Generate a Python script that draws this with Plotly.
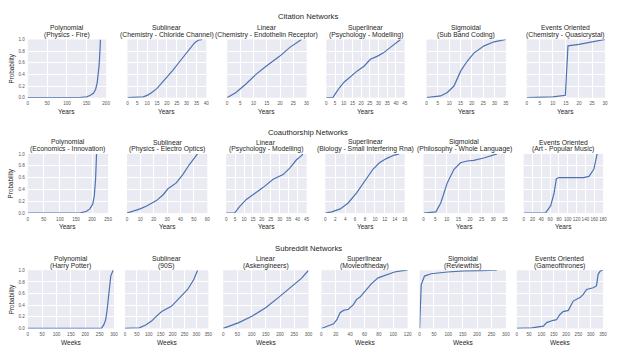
import plotly.graph_objects as go

# ---------------- data ----------------
row_titles = ["Citation Networks", "Coauthorship Networks", "Subreddit Networks"]
x_labels = ["Years", "Years", "Weeks"]
kinds = ["Polynomial", "Sublinear", "Linear", "Superlinear", "Sigmoidal", "Events Oriented"]
topics = [
    ["(Physics - Fire)", "(Chemistry - Chloride Channel)", "(Chemistry - Endothelin Receptor)",
     "(Psychology - Modelling)", "(Sub Band Coding)", "(Chemistry - Quasicrystal)"],
    ["(Economics - Innovation)", "(Physics - Electro Optics)", "(Psychology - Modelling)",
     "(Biology - Small Interfering Rna)", "(Philosophy - Whole Language)", "(Art - Popular Music)"],
    ["(Harry Potter)", "(90S)", "(Askengineers)", "(Movieoftheday)", "(Reviewthis)", "(Gameofthrones)"],
]

# Citation networks
cit_poly_x = [0, 100, 130, 150, 160, 168, 173, 177, 180, 182, 184, 185.5]
cit_poly_y = [0, 0, 0.002, 0.015, 0.04, 0.08, 0.14, 0.25, 0.4, 0.55, 0.78, 1.0]
cit_sub_x = [0, 5, 8, 10, 12, 15, 18, 20, 23, 26, 30, 32, 34, 36, 38]
cit_sub_y = [0, 0.003, 0.015, 0.04, 0.08, 0.16, 0.27, 0.35, 0.47, 0.6, 0.76, 0.86, 0.94, 0.99, 1.0]
cit_lin_x = [0, 3.2, 7, 10.9, 14.7, 19.8, 23.6, 27.5, 28.1]
cit_lin_y = [0, 0.086, 0.23, 0.4, 0.54, 0.71, 0.86, 0.98, 1.0]
cit_sup_x = [0, 3.75, 5.6, 7.5, 10.3, 14.1, 17.8, 21.6, 25.3, 29.1, 32.8, 36.6, 40.3, 42.6]
cit_sup_y = [0, 0, 0.086, 0.17, 0.27, 0.37, 0.46, 0.54, 0.66, 0.71, 0.77, 0.86, 0.94, 1.0]
cit_sig_x = [0, 6.2, 9.2, 12.1, 15.1, 18, 21, 25.4, 29.8, 34.3, 35]
cit_sig_y = [0, 0.03, 0.09, 0.2, 0.46, 0.63, 0.77, 0.89, 0.96, 0.995, 1.0]
cit_evt_x = [0, 5, 10, 14.8, 15.8, 20, 25, 30]
cit_evt_y = [0, 0.005, 0.012, 0.04, 0.89, 0.915, 0.955, 1.0]

# Coauthorship networks
coa_poly_x = [0, 100, 162, 183, 193, 202, 207, 211, 214]
coa_poly_y = [0, 0, 0, 0.03, 0.07, 0.15, 0.29, 0.57, 1.0]
coa_sub_x = [0, 9.8, 14.7, 22, 27, 30.6, 36.8, 41.7, 46.6, 51.5, 52.7]
coa_sub_y = [0, 0.07, 0.12, 0.21, 0.31, 0.41, 0.51, 0.65, 0.82, 0.98, 1.0]
coa_lin_x = [0, 4.7, 7.5, 11.3, 15, 20.6, 26.3, 31.9, 35.6, 39.4, 42.2, 43]
coa_lin_y = [0, 0, 0.11, 0.23, 0.31, 0.43, 0.57, 0.65, 0.76, 0.9, 0.97, 1.0]
coa_sup_x = [0, 1.3, 3, 4.6, 6.3, 7.9, 9.6, 10.9, 12.3, 13.9, 14.9]
coa_sup_y = [0, 0.02, 0.07, 0.17, 0.34, 0.54, 0.74, 0.85, 0.92, 0.98, 1.0]
coa_sig_x = [0, 5.3, 7.4, 10.2, 13.1, 15.9, 18.8, 21.6, 25.9, 30.2, 31.6]
coa_sig_y = [0, 0.02, 0.17, 0.51, 0.74, 0.85, 0.88, 0.89, 0.93, 0.99, 1.0]
coa_evt_x = [0, 49, 61, 69, 74, 80, 136, 148, 159, 165, 166.5]
coa_evt_y = [0, 0, 0.12, 0.34, 0.58, 0.6, 0.6, 0.62, 0.74, 0.95, 1.0]

# Subreddit networks
sub_poly_x = [0, 100, 200, 256, 264, 271, 276, 282, 288.5, 296.5]
sub_poly_y = [0, 0, 0, 0, 0.06, 0.15, 0.33, 0.64, 0.9, 1.0]
sub_sub_x = [0, 50, 60, 87, 113, 127, 154, 195, 236, 263, 289, 305]
sub_sub_y = [0, 0, 0.01, 0.06, 0.13, 0.19, 0.29, 0.38, 0.55, 0.67, 0.84, 1.0]
sub_lin_x = [0, 25, 55, 101, 148, 194, 241, 275, 300]
sub_lin_y = [0, 0.04, 0.1, 0.21, 0.35, 0.53, 0.73, 0.86, 1.0]
sub_sup_x = [0, 10, 17, 21.6, 26, 30.7, 37.6, 44.5, 49, 53.7, 60.5, 69.7, 78.9, 85.8, 92.7, 101.8, 111, 120]
sub_sup_y = [0, 0.04, 0.08, 0.15, 0.27, 0.31, 0.33, 0.41, 0.5, 0.54, 0.64, 0.77, 0.87, 0.9, 0.93, 0.97, 0.99, 1.0]
sub_sig_x = [0, 2.3, 5.7, 17, 40, 97, 155, 212, 269]
sub_sig_y = [0, 0.41, 0.75, 0.9, 0.94, 0.97, 0.99, 0.995, 1.0]
sub_evt_x = [0, 60.6, 108, 121, 148, 161, 175, 188, 209, 229, 256, 269, 283, 310, 323, 330, 339, 350]
sub_evt_y = [0, 0.01, 0.04, 0.1, 0.14, 0.15, 0.24, 0.29, 0.31, 0.47, 0.53, 0.58, 0.67, 0.7, 0.73, 0.93, 0.99, 1.0]

series = [
    [(cit_poly_x, cit_poly_y), (cit_sub_x, cit_sub_y), (cit_lin_x, cit_lin_y),
     (cit_sup_x, cit_sup_y), (cit_sig_x, cit_sig_y), (cit_evt_x, cit_evt_y)],
    [(coa_poly_x, coa_poly_y), (coa_sub_x, coa_sub_y), (coa_lin_x, coa_lin_y),
     (coa_sup_x, coa_sup_y), (coa_sig_x, coa_sig_y), (coa_evt_x, coa_evt_y)],
    [(sub_poly_x, sub_poly_y), (sub_sub_x, sub_sub_y), (sub_lin_x, sub_lin_y),
     (sub_sup_x, sub_sup_y), (sub_sig_x, sub_sig_y), (sub_evt_x, sub_evt_y)],
]

x_max = [[200, 40, 30, 45, 35, 30], [250, 60, 45, 16, 35, 180], [300, 350, 300, 120, 300, 350]]
x_step = [[50, 5, 5, 5, 5, 5], [50, 10, 5, 2, 5, 20], [50, 50, 50, 20, 50, 50]]
y_tick_vals = [0.0, 0.2, 0.4, 0.6, 0.8, 1.0]

# ---------------- layout (pixel geometry) ----------------
W, H = 617, 363
row_y_px = [(38, 97), (154, 214), (272, 331)]
col_x_px = [
    [(27, 106), (127.5, 207), (228, 308), (328, 407), (429, 509), (530, 609)],
    [(27, 108), (127, 208), (227, 308), (327, 407), (426, 508), (527, 607)],
    [(27, 114), (125, 209), (224, 310), (323, 410), (422, 509), (520, 607)],
]
row_title_y_px = [15, 132, 250]

FONT = "Liberation Sans, Arial, sans-serif"
TXT = "#262626"
TICK = "#555555"
BG = "#EAEAF2"
LINE = "#4C72B0"


def px_x(x):
    return x / W


def px_y(y):
    return (H - y) / H


fig = go.Figure()
layout = {}
annotations = []

for r in range(3):
    y0, y1 = row_y_px[r]
    for c in range(6):
        i = r * 6 + c + 1
        sfx = "" if i == 1 else str(i)
        x0, x1 = col_x_px[r][c]
        xs, ys = series[r][c]
        fig.add_trace(go.Scatter(
            x=xs, y=ys, mode="lines", xaxis="x" + sfx, yaxis="y" + sfx,
            line=dict(color=LINE, width=1.2), showlegend=False, hoverinfo="skip"))
        layout["xaxis" + sfx] = dict(
            domain=[px_x(x0), px_x(x1)], anchor="y" + sfx,
            range=[0, x_max[r][c]], tick0=0, dtick=x_step[r][c], tickangle=0,
            showgrid=True, gridcolor="white", gridwidth=1, zeroline=False,
            showline=False, ticks="", ticklabelstandoff=2,
            tickfont=dict(size=4.6, color=TICK, family=FONT),
        )
        layout["yaxis" + sfx] = dict(
            domain=[px_y(y1), px_y(y0)], anchor="x" + sfx,
            range=[0, 1], tickvals=y_tick_vals, tickformat=".1f",
            showticklabels=(c == 0),
            showgrid=True, gridcolor="white", gridwidth=1, zeroline=False,
            showline=False, ticks="", ticklabelstandoff=2,
            tickfont=dict(size=4.6, color=TICK, family=FONT),
        )
        cx = (x0 + x1) / 2
        annotations.append(dict(
            text=kinds[c], x=px_x(cx), y=px_y(y0 - 11.8), xref="paper", yref="paper",
            xanchor="center", yanchor="middle", showarrow=False,
            font=dict(size=6.8, color=TXT, family=FONT)))
        annotations.append(dict(
            text=topics[r][c], x=px_x(cx), y=px_y(y0 - 4.8), xref="paper", yref="paper",
            xanchor="center", yanchor="middle", showarrow=False,
            font=dict(size=6.8, color=TXT, family=FONT)))
        annotations.append(dict(
            text=x_labels[r], x=px_x(cx), y=px_y(y1 + 14), xref="paper", yref="paper",
            xanchor="center", yanchor="middle", showarrow=False,
            font=dict(size=6.5, color=TXT, family=FONT)))
    annotations.append(dict(
        text="Probability", x=px_x(11), y=px_y((y0 + y1) / 2), xref="paper", yref="paper",
        xanchor="center", yanchor="middle", textangle=-90, showarrow=False,
        font=dict(size=6.3, color=TXT, family=FONT)))
    annotations.append(dict(
        text=row_titles[r], x=px_x(310), y=px_y(row_title_y_px[r]), xref="paper", yref="paper",
        xanchor="center", yanchor="middle", showarrow=False,
        font=dict(size=7.7, color=TXT, family=FONT)))

fig.update_layout(
    width=W, height=H, margin=dict(l=0, r=0, t=0, b=0),
    paper_bgcolor="white", plot_bgcolor=BG,
    annotations=annotations, showlegend=False,
    **layout,
)

fig.write_html(
    "out.html",
    config={"displayModeBar": False},
    post_script="document.body.style.margin='0';document.body.style.overflow='hidden';",
)
